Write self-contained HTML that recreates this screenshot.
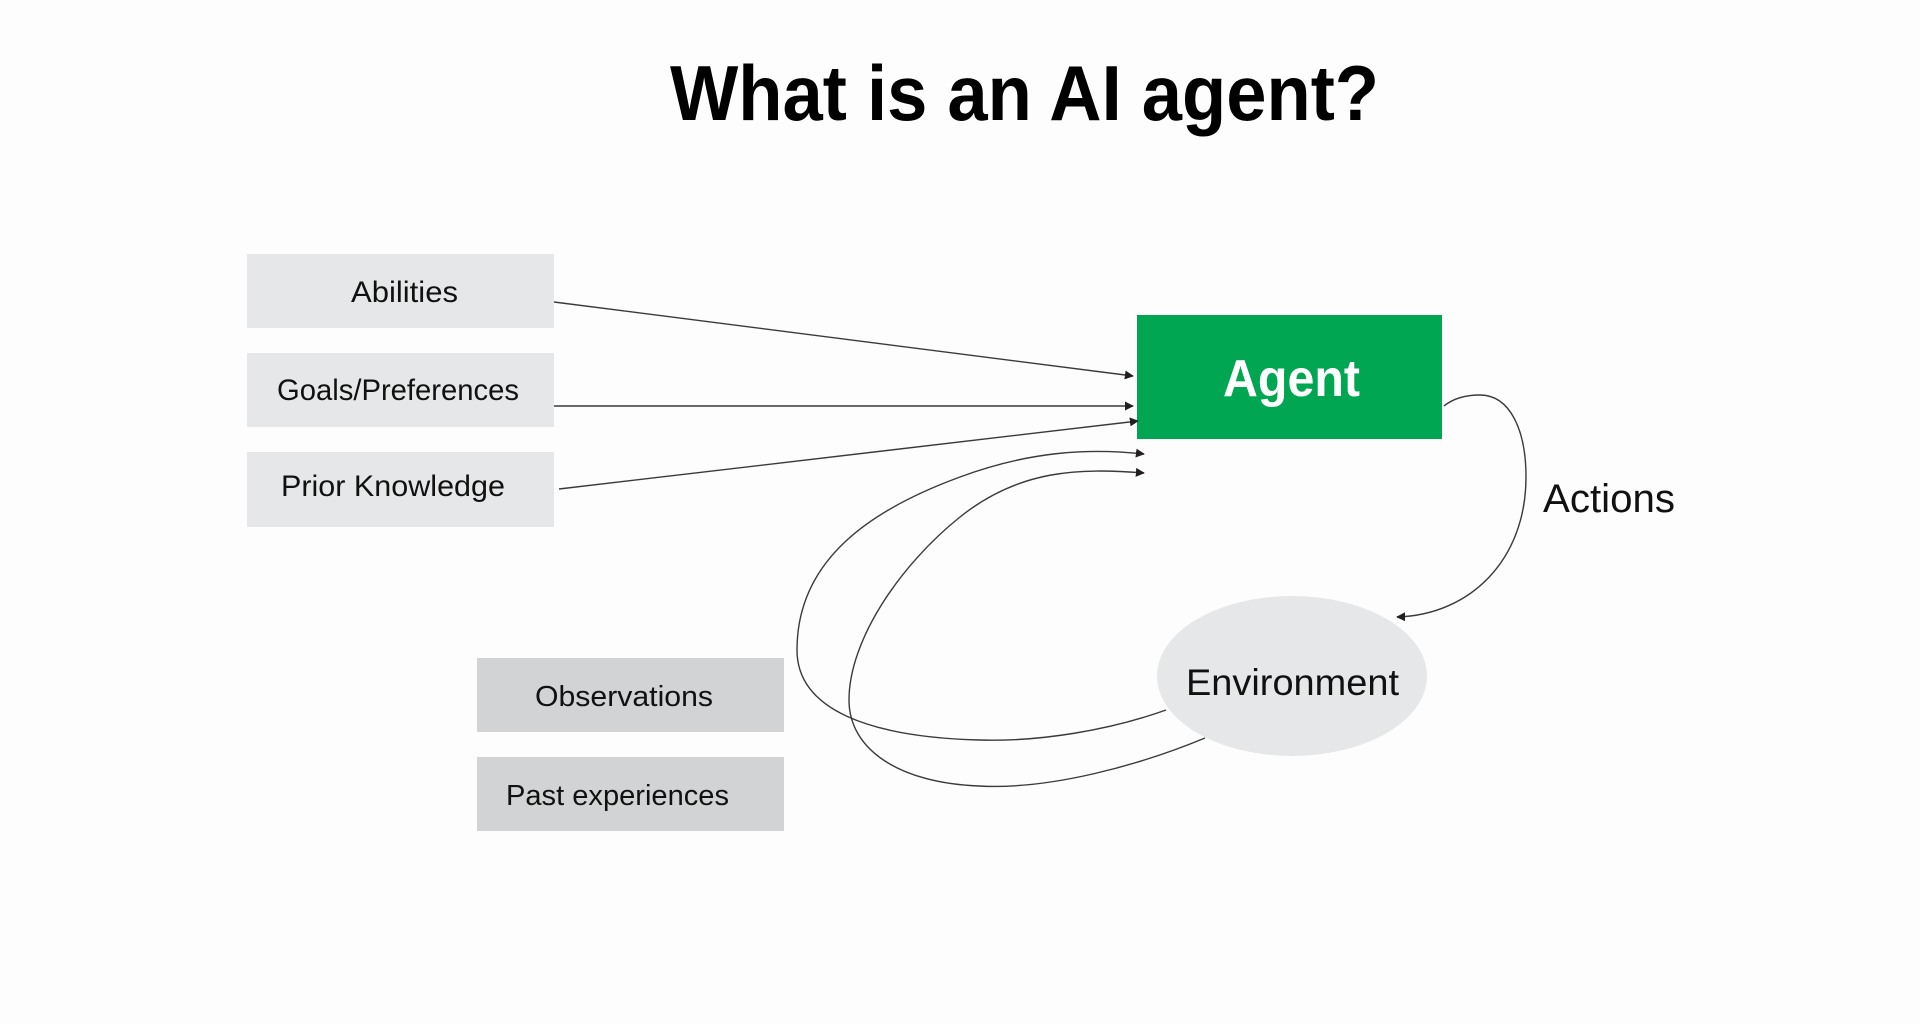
<!DOCTYPE html>
<html>
<head>
<meta charset="utf-8">
<style>
  html, body { margin: 0; padding: 0; background: #fdfdfd; }
  body { width: 1920px; height: 1024px; overflow: hidden; }
  svg { display: block; }
  text { font-family: "Liberation Sans", "DejaVu Sans", sans-serif; }
</style>
</head>
<body>
<svg width="1920" height="1024" viewBox="0 0 1920 1024" xmlns="http://www.w3.org/2000/svg">
  <defs>
    <marker id="ah" viewBox="0 0 10 10" refX="9" refY="5" markerWidth="9" markerHeight="9" markerUnits="userSpaceOnUse" orient="auto">
      <path d="M0,0 L10,5 L0,10 z" fill="#231f20"/>
    </marker>
  </defs>
  <rect x="0" y="0" width="1920" height="1024" fill="#fdfdfd"/>

  <!-- Title -->
  <text x="670" y="120" font-size="78" font-weight="bold" fill="#000" textLength="709" lengthAdjust="spacingAndGlyphs">What is an AI agent?</text>

  <!-- Left input boxes -->
  <rect x="247" y="254" width="307" height="74" fill="#e6e7e8"/>
  <rect x="247" y="353" width="307" height="74" fill="#e6e7e8"/>
  <rect x="247" y="452" width="307" height="75" fill="#e6e7e8"/>
  <text x="351" y="302" font-size="30" fill="#111" textLength="107" lengthAdjust="spacingAndGlyphs">Abilities</text>
  <text x="277" y="400" font-size="30" fill="#111" textLength="242" lengthAdjust="spacingAndGlyphs">Goals/Preferences</text>
  <text x="281" y="496" font-size="30" fill="#111" textLength="224" lengthAdjust="spacingAndGlyphs">Prior Knowledge</text>

  <!-- Bottom boxes -->
  <rect x="477" y="658" width="307" height="74" fill="#d1d3d4"/>
  <rect x="477" y="757" width="307" height="74" fill="#d1d3d4"/>
  <text x="535" y="706" font-size="29" fill="#111" textLength="178" lengthAdjust="spacingAndGlyphs">Observations</text>
  <text x="506" y="805" font-size="29" fill="#111" textLength="223" lengthAdjust="spacingAndGlyphs">Past experiences</text>

  <!-- Agent -->
  <rect x="1137" y="315" width="305" height="124" fill="#00a651"/>
  <text x="1223" y="396" font-size="52" font-weight="bold" fill="#ffffff" textLength="137" lengthAdjust="spacingAndGlyphs">Agent</text>

  <!-- Environment -->
  <ellipse cx="1292" cy="676" rx="135" ry="80" fill="#e6e7e8"/>
  <text x="1186" y="695" font-size="37" fill="#111" textLength="213" lengthAdjust="spacingAndGlyphs">Environment</text>

  <!-- Actions label -->
  <text x="1543" y="512" font-size="40" fill="#111" textLength="132" lengthAdjust="spacingAndGlyphs">Actions</text>

  <!-- Connectors -->
  <g fill="none" stroke="#3a3a3a" stroke-width="1.4">
    <line x1="554" y1="302" x2="1133" y2="376" marker-end="url(#ah)"/>
    <line x1="554" y1="406" x2="1133" y2="406" marker-end="url(#ah)"/>
    <line x1="559" y1="489" x2="1138" y2="421" marker-end="url(#ah)"/>

    <!-- Actions curve -->
    <path d="M1444,406 C1455,397 1468,395 1480,395 C1510,395 1526,430 1526,477 C1526,560 1470,615 1397,617" marker-end="url(#ah)"/>

    <!-- Observation loops -->
    <path d="M1166,710 C1110,730 1040,742 979,740 C870,737 797,710 797,650 C797,560 870,510 960,477 C1030,451 1090,448 1144,454" marker-end="url(#ah)"/>
    <path d="M1205,738 C1140,765 1050,790 979,786 C900,783 849,750 849,700 C849,640 900,565 960,517 C1020,469 1080,468 1144,473" marker-end="url(#ah)"/>
  </g>
</svg>
</body>
</html>
